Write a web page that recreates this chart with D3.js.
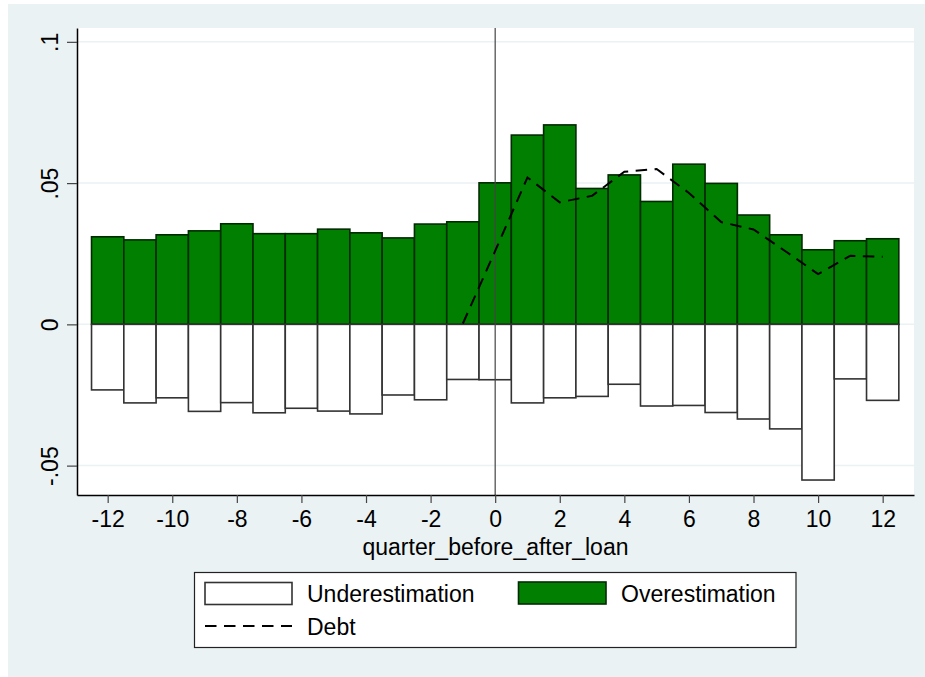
<!DOCTYPE html>
<html>
<head>
<meta charset="utf-8">
<title>Over/underestimation around loan</title>
<script src="https://d3js.org/d3.v7.min.js"></script>
<style>
  body { margin: 0; background: #fff; }
  text { font-family: "Liberation Sans", Arial, Helvetica, sans-serif; fill: #000; }
</style>
</head>
<body>
<svg id="chart" width="925" height="677"></svg>
<script>
// data
const quarters = [-12, -11, -10, -9, -8, -7, -6, -5, -4, -3, -2, -1, 0, 1, 2, 3, 4, 5, 6, 7, 8, 9, 10, 11, 12];
const overestimation = [0.0310, 0.0299, 0.0317, 0.0331, 0.0356, 0.0321, 0.0321, 0.0337, 0.0324, 0.0306, 0.0355, 0.0363,
                        0.0501, 0.0670, 0.0706, 0.0481, 0.0529, 0.0435, 0.0567, 0.0499, 0.0387, 0.0317, 0.0264, 0.0296, 0.0303];
const underestimation = [-0.0232, -0.0278, -0.0260, -0.0308, -0.0277, -0.0313, -0.0297, -0.0307, -0.0317, -0.0250, -0.0267, -0.0195,
                         -0.0196, -0.0278, -0.0260, -0.0255, -0.0212, -0.0289, -0.0287, -0.0312, -0.0335, -0.0370, -0.0551, -0.0193, -0.0269];
const debtQuarters = [-1, 0, 1, 2, 3, 4, 5, 6, 7, 8, 9, 10, 11, 12];
const debt = [0.0003, 0.0260, 0.0520, 0.0432, 0.0455, 0.0540, 0.0550, 0.0465, 0.0362, 0.0336, 0.0258, 0.0178, 0.0243, 0.0239];
const xTicks = [-12, -10, -8, -6, -4, -2, 0, 2, 4, 6, 8, 10, 12];
const yTicks = [-0.05, 0, 0.05, 0.1];
const yTickLabels = ["-.05", "0", ".05", ".1"];

const svg = d3.select("#chart");
const plot = { left: 77, right: 914, top: 28, bottom: 495 };
const fontSize = "23px";

const x = d3.scaleLinear().domain([-12.95, 12.97]).range([plot.left, plot.right]);
const y = d3.scaleLinear().domain([-0.0604, 0.1049]).range([plot.bottom, plot.top]);

// backgrounds
svg.append("rect").attr("x", 8).attr("y", 4).attr("width", 917).attr("height", 673).attr("fill", "#eaf2f3");
svg.append("rect").attr("x", plot.left).attr("y", plot.top)
  .attr("width", plot.right - plot.left).attr("height", plot.bottom - plot.top).attr("fill", "#fff");

// gridlines
svg.append("g").selectAll("line").data(yTicks).join("line")
  .attr("x1", plot.left).attr("x2", plot.right)
  .attr("y1", d => y(d)).attr("y2", d => y(d))
  .attr("stroke", "#eaf2f3").attr("stroke-width", 1.5);

const w = x(1) - x(0);

// overestimation bars
svg.append("g").selectAll("rect").data(quarters).join("rect")
  .attr("x", (d) => x(d - 0.5))
  .attr("width", w)
  .attr("y", (d, i) => y(overestimation[i]))
  .attr("height", (d, i) => y(0) - y(overestimation[i]))
  .attr("fill", "#007f00").attr("stroke", "#002b00").attr("stroke-width", 1.6);

// underestimation bars
svg.append("g").selectAll("rect").data(quarters).join("rect")
  .attr("x", (d) => x(d - 0.5))
  .attr("width", w)
  .attr("y", y(0))
  .attr("height", (d, i) => y(underestimation[i]) - y(0))
  .attr("fill", "#fff").attr("stroke", "#333").attr("stroke-width", 1.6);

// vertical line at loan quarter
svg.append("line")
  .attr("x1", x(0)).attr("x2", x(0)).attr("y1", plot.top).attr("y2", plot.bottom)
  .attr("stroke", "#444").attr("stroke-width", 1.2);

// debt line
const line = d3.line().x((d, i) => x(d)).y((d, i) => y(debt[i]));
svg.append("path").datum(debtQuarters)
  .attr("d", line)
  .attr("fill", "none").attr("stroke", "#000").attr("stroke-width", 2)
  .attr("stroke-dasharray", "11.5,7.5");

// axes
const xAxis = svg.append("g").attr("transform", `translate(0,${plot.bottom})`)
  .call(d3.axisBottom(x).tickValues(xTicks).tickSize(8).tickPadding(8).tickSizeOuter(0).tickFormat(d3.format("d")));
xAxis.select(".domain").attr("stroke", "#000").attr("stroke-width", 1.5);
xAxis.selectAll(".tick line").attr("stroke", "#444").attr("stroke-width", 1.2);
xAxis.selectAll(".tick text")
  .style("font-family", "'Liberation Sans', Arial, sans-serif").style("font-size", fontSize)
  .text(d => d < 0 ? "-" + Math.abs(d) : d);

const yAxis = svg.append("g").attr("transform", `translate(${plot.left},0)`)
  .call(d3.axisLeft(y).tickValues(yTicks).tickSize(10).tickSizeOuter(0).tickFormat((d, i) => yTickLabels[i]));
yAxis.select(".domain").attr("stroke", "#000").attr("stroke-width", 1.5);
yAxis.selectAll(".tick line").attr("stroke", "#444").attr("stroke-width", 1.2);
yAxis.selectAll(".tick text")
  .style("font-family", "'Liberation Sans', Arial, sans-serif").style("font-size", fontSize)
  .attr("x", null).attr("dy", null)
  .attr("text-anchor", "middle")
  .attr("transform", "translate(-19,0) rotate(-90)");

// axis title
svg.append("text").attr("x", (plot.left + plot.right) / 2).attr("y", 555)
  .attr("text-anchor", "middle").style("font-size", fontSize)
  .text("quarter_before_after_loan");

// legend
const lg = svg.append("g");
lg.append("rect").attr("x", 194.5).attr("y", 572.5).attr("width", 601.5).attr("height", 75)
  .attr("fill", "#fff").attr("stroke", "#222").attr("stroke-width", 1.2);
lg.append("rect").attr("x", 205).attr("y", 582.5).attr("width", 87).attr("height", 22)
  .attr("fill", "#fff").attr("stroke", "#333").attr("stroke-width", 1.6);
lg.append("text").attr("x", 307).attr("y", 602).style("font-size", fontSize).text("Underestimation");
lg.append("rect").attr("x", 518.5).attr("y", 582).attr("width", 87.5).attr("height", 22)
  .attr("fill", "#007f00").attr("stroke", "#002b00").attr("stroke-width", 1.6);
lg.append("text").attr("x", 621).attr("y", 602).style("font-size", fontSize).text("Overestimation");
lg.append("line").attr("x1", 205).attr("x2", 292).attr("y1", 626).attr("y2", 626)
  .attr("stroke", "#000").attr("stroke-width", 2).attr("stroke-dasharray", "11.5,7.5");
lg.append("text").attr("x", 307).attr("y", 635).style("font-size", fontSize).text("Debt");
</script>
</body>
</html>
